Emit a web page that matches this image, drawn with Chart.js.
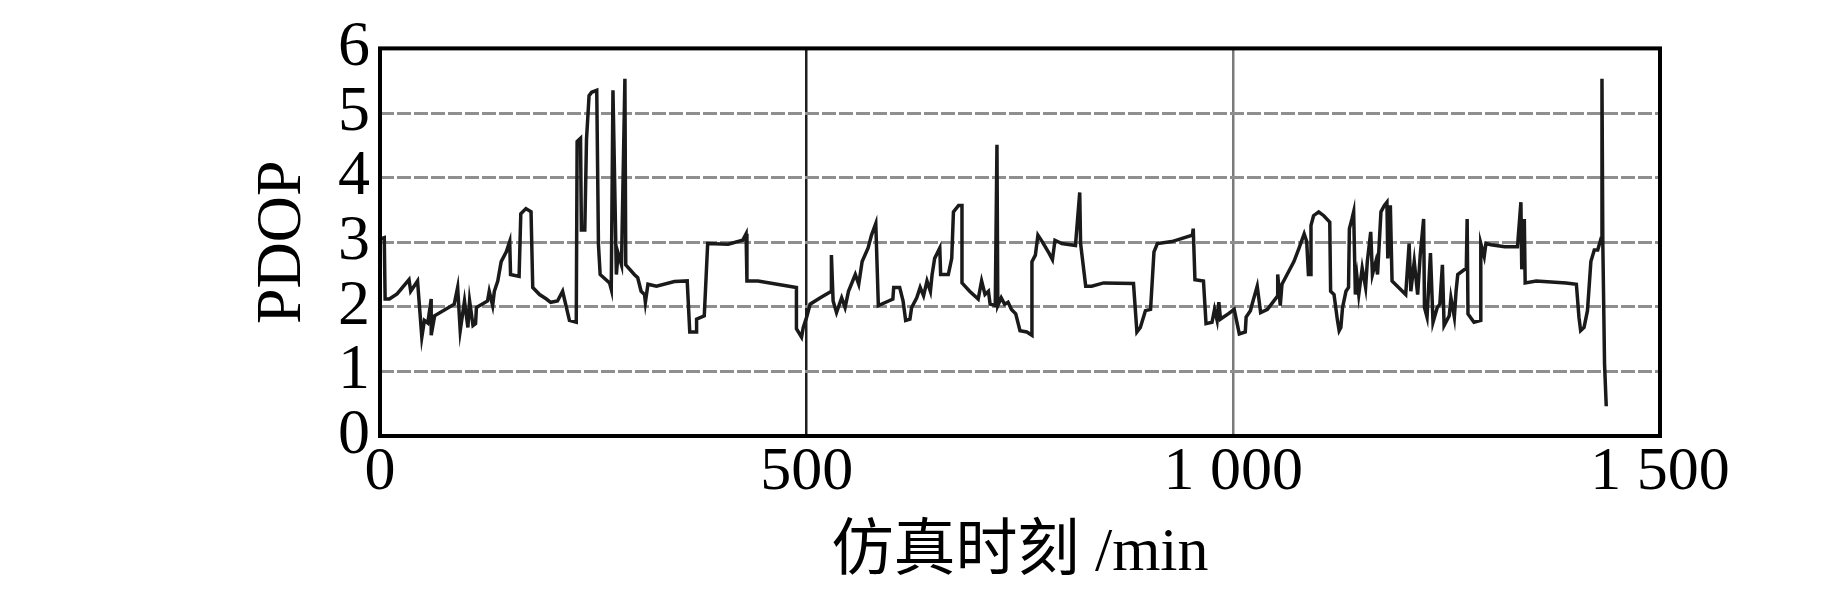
<!DOCTYPE html>
<html>
<head>
<meta charset="utf-8">
<script src="https://cdn.jsdelivr.net/npm/chart.js@4/dist/chart.umd.min.js"></script>
<style>
  body { margin: 0; background: #fff; }
  canvas { display: block; }
</style>
</head>
<body>
<canvas id="chartPdop" width="1843" height="591"></canvas>
<script>
// simulation time (min) and PDOP
const tiempo = [
  0, 5, 6, 11, 20, 34, 36, 44, 49, 52, 56, 60, 60, 64, 87, 91, 94, 99, 103, 105,
  109, 112, 113, 126, 128, 132, 134, 138, 142, 148, 152, 153, 163, 165, 171, 177, 179, 187, 195, 200,
  208, 214, 222, 230, 231, 235, 236, 240, 242, 245, 248, 254, 256, 258, 269, 271, 273, 277, 279, 283,
  287, 288, 298, 302, 306, 310, 311, 314, 324, 345, 360, 363, 371, 371, 380, 384, 408, 425, 429, 430,
  443, 488, 488, 494, 496, 500, 504, 516, 529, 529, 531, 535, 541, 545, 549, 557, 561, 565, 572, 576,
  581, 584, 596, 601, 602, 609, 613, 616, 621, 623, 629, 633, 637, 641, 645, 647, 650, 656, 657, 666,
  670, 672, 678, 682, 682, 691, 701, 705, 709, 713, 715, 721, 723, 724, 728, 732, 736, 740, 745, 750,
  758, 764, 764, 768, 771, 776, 784, 788, 791, 799, 815, 820, 821, 827, 834, 848, 883, 887, 891, 897,
  903, 907, 911, 928, 952, 953, 955, 965, 968, 975, 978, 981, 983, 985, 994, 1001, 1007, 1014, 1015, 1020,
  1022, 1028, 1032, 1040, 1052, 1052, 1055, 1057, 1065, 1071, 1077, 1083, 1086, 1088, 1090, 1091, 1094, 1100, 1106, 1113,
  1114, 1118, 1122, 1124, 1126, 1128, 1132, 1135, 1136, 1139, 1141, 1143, 1145, 1147, 1151, 1155, 1157, 1161, 1163, 1167,
  1169, 1173, 1177, 1180, 1181, 1184, 1186, 1202, 1206, 1208, 1212, 1216, 1219, 1223, 1224, 1227, 1231, 1234, 1239, 1242,
  1245, 1247, 1253, 1255, 1259, 1261, 1263, 1273, 1274, 1275, 1282, 1290, 1290, 1294, 1296, 1302, 1318, 1333, 1337, 1338,
  1341, 1342, 1355, 1390, 1402, 1405, 1407, 1411, 1415, 1419, 1423, 1427, 1431, 1432, 1433, 1435, 1437
];
const pdop = [
  3.05, 3.07, 2.12, 2.12, 2.2, 2.42, 2.24, 2.40, 1.53, 1.79, 1.75, 2.12, 1.56, 1.86, 2.04, 2.30, 1.63, 2.09, 1.68, 2.09,
  1.71, 1.74, 1.99, 2.09, 2.24, 2.02, 2.24, 2.40, 2.70, 2.85, 3.01, 2.50, 2.47, 3.44, 3.52, 3.47, 2.30, 2.19, 2.12, 2.07,
  2.09, 2.24, 1.79, 1.76, 4.56, 4.61, 3.19, 3.19, 4.59, 5.27, 5.32, 5.35, 2.96, 2.50, 2.37, 2.27, 5.35, 2.50, 2.83, 2.65,
  5.53, 2.65, 2.50, 2.45, 2.24, 2.19, 2.07, 2.35, 2.32, 2.39, 2.40, 1.61, 1.61, 1.81, 1.86, 2.98, 2.97, 3.03, 3.13, 2.40,
  2.40, 2.30, 1.66, 1.53, 1.68, 1.84, 2.04, 2.14, 2.24, 2.80, 2.09, 1.91, 2.14, 1.99, 2.24, 2.50, 2.35, 2.70, 2.91, 3.11,
  3.29, 2.02, 2.09, 2.12, 2.30, 2.30, 2.09, 1.79, 1.81, 1.99, 2.14, 2.30, 2.17, 2.40, 2.24, 2.50, 2.75, 2.91, 2.50, 2.50,
  2.75, 3.47, 3.57, 3.57, 2.37, 2.24, 2.12, 2.40, 2.19, 2.24, 2.04, 2.02, 4.51, 2.02, 2.14, 2.04, 2.07, 1.96, 1.89, 1.63,
  1.61, 1.56, 2.70, 2.80, 3.11, 3.01, 2.83, 2.73, 3.03, 2.98, 2.95, 3.77, 2.98, 2.32, 2.32, 2.37, 2.36, 1.61, 1.68, 1.94,
  1.96, 2.85, 2.98, 3.01, 3.11, 3.21, 2.42, 2.40, 1.74, 1.76, 1.96, 1.79, 2.07, 1.81, 1.89, 1.96, 1.58, 1.61, 1.84, 1.94,
  2.04, 2.32, 1.91, 1.96, 2.17, 2.50, 2.02, 2.35, 2.55, 2.70, 2.91, 3.13, 3.01, 2.50, 2.50, 3.26, 3.41, 3.47, 3.41, 3.31,
  2.24, 2.19, 1.79, 1.63, 1.68, 1.99, 2.24, 2.30, 3.21, 3.36, 3.47, 2.19, 2.45, 2.19, 2.60, 2.30, 2.70, 3.16, 2.50, 2.70,
  2.50, 3.47, 3.57, 3.62, 2.75, 3.57, 2.40, 2.19, 2.98, 2.24, 2.70, 2.19, 2.80, 3.36, 1.99, 1.84, 2.83, 1.76, 1.99, 2.04,
  2.65, 1.71, 1.86, 2.14, 1.84, 2.24, 2.50, 2.60, 3.36, 1.89, 1.76, 1.79, 2.98, 2.78, 2.98, 2.96, 2.93, 2.93, 3.62, 2.58,
  3.36, 2.37, 2.40, 2.37, 2.35, 1.84, 1.63, 1.68, 1.94, 2.70, 2.88, 2.88, 3.06, 5.53, 2.98, 1.12, 0.46
];
const xTickLabels = ["0", "500", "1 000", "1 500"];
const yTickLabels = ["0", "1", "2", "3", "4", "5", "6"];

const ctx = document.getElementById("chartPdop");
const puntos = tiempo.map((t, i) => ({ x: t, y: pdop[i] }));

// marco negro alrededor del area del grafico
const marco = {
  id: "marco",
  afterDatasetsDraw(chart) {
    const a = chart.chartArea;
    const c = chart.ctx;
    c.save();
    c.strokeStyle = "#000";
    c.lineWidth = 4;
    c.strokeRect(a.left, a.top, a.right - a.left, a.bottom - a.top);
    c.restore();
  },
};

const serif = "'Liberation Serif', 'Times New Roman', serif";

new Chart(ctx, {
  type: "line",
  data: {
    datasets: [
      {
        data: puntos,
        borderColor: "#1a1a1a",
        borderWidth: 3.5,
        pointRadius: 0,
        tension: 0,
        fill: false,
      },
    ],
  },
  options: {
    responsive: false,
    animation: false,
    layout: { padding: { left: 245, right: 183, top: 44, bottom: 0 } },
    plugins: { legend: { display: false }, tooltip: { enabled: false } },
    scales: {
      x: {
        type: "linear",
        min: 0,
        max: 1500,
        afterFit: (axis) => { axis.height = 155; },
        ticks: {
          stepSize: 500,
          autoSkip: false,
          maxRotation: 0,
          padding: 0,
          color: "#000",
          font: { family: serif, size: 62 },
          callback: (value) => xTickLabels[Math.round(value / 500)],
        },
        grid: {
          drawTicks: false,
          lineWidth: 2.5,
          color: (c) => c.tick && c.tick.value === 500 ? "#1e1e1e" : c.tick && c.tick.value === 1000 ? "#7a7a7a" : "rgba(0,0,0,0)",
        },
        border: { display: false },
        title: {
          display: true,
          text: "仿真时刻 /min",
          color: "#000",
          padding: 0,
          font: { family: "'Liberation Serif', 'Noto Sans CJK SC', serif", size: 62 },
        },
      },
      y: {
        min: 0,
        max: 6,
        afterFit: (axis) => { axis.width = 135; },
        ticks: {
          stepSize: 1,
          autoSkip: false,
          padding: 10,
          color: "#000",
          font: { family: serif, size: 64 },
          callback: (value) => yTickLabels[value],
        },
        grid: { drawTicks: false, lineWidth: 3, color: "#8f8f8f" },
        border: { display: false, dash: [14, 3] },
        title: {
          display: true,
          text: "PDOP",
          color: "#000",
          padding: 0,
          font: { family: serif, size: 64 },
        },
      },
    },
  },
  plugins: [marco],
});
</script>
</body>
</html>
